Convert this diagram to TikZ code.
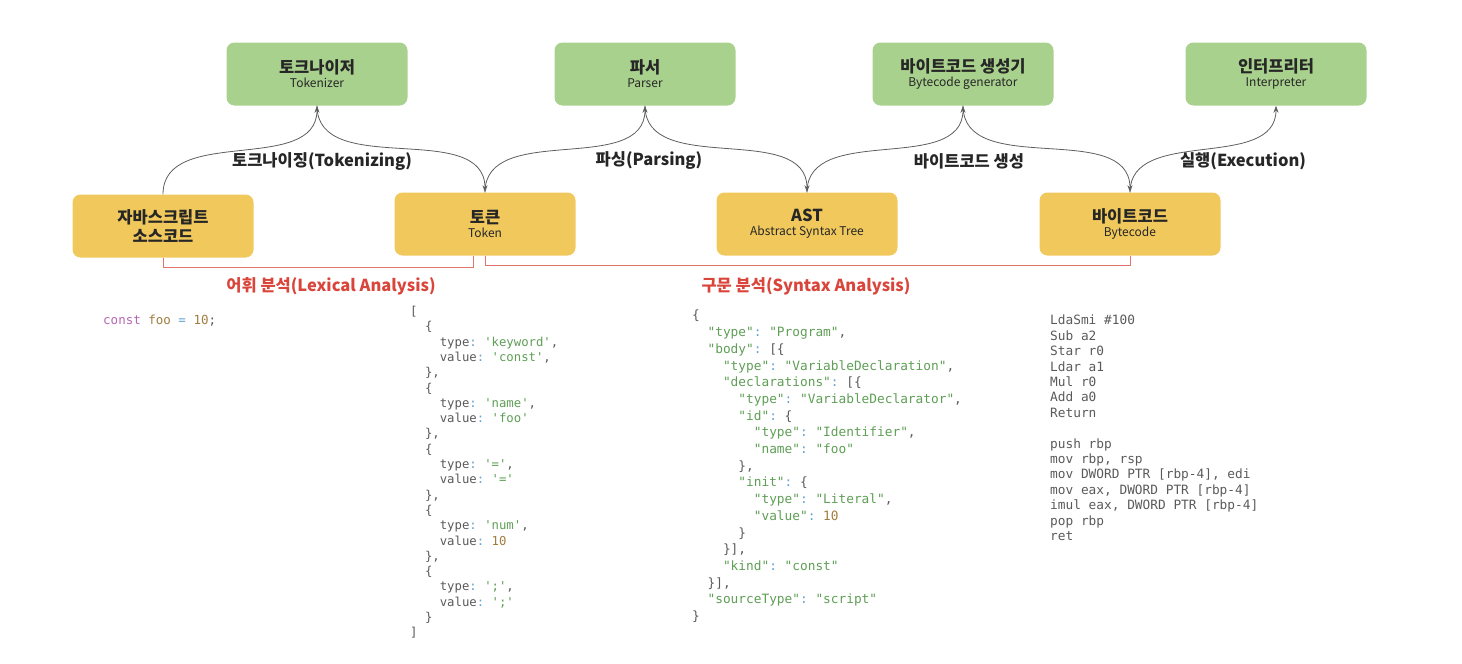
\documentclass[tikz,border=0pt]{standalone}
\usepackage{fontspec}
\setmainfont{Noto Sans CJK KR}
\setmonofont{DejaVu Sans Mono}
\usetikzlibrary{arrows.meta}
\definecolor{verde}{HTML}{A9D18E}
\definecolor{amarillo}{HTML}{F0C85C}
\definecolor{rojo}{HTML}{D9453B}
\definecolor{gris}{HTML}{5E5E5E}
\definecolor{codgris}{HTML}{5A5A5A}
\definecolor{codverde}{HTML}{5E9E55}
\definecolor{codnum}{HTML}{A27C3E}
\definecolor{codazul}{HTML}{62A3D2}
\definecolor{codmorado}{HTML}{B466B4}
\newcommand{\titulo}[1]{{\fontsize{16.5}{19}\selectfont\bfseries #1}}
\newcommand{\subt}[1]{{\fontsize{12}{14}\selectfont #1}}
\newcommand{\cad}[1]{\textcolor{codverde}{#1}}
\newcommand{\numero}[1]{\textcolor{codnum}{#1}}
\newcommand{\dosp}{\textcolor{codazul}{:}}
\newcommand{\esp}[1]{\hspace*{#1\fontcharwd\font`0}}

\begin{document}
\begin{tikzpicture}[x=1pt, y=1pt,
    caja/.style={rounded corners=8pt, minimum width=181pt, minimum height=63pt, align=center, inner sep=2pt, text=black!85},
    proceso/.style={caja, fill=verde},
    dato/.style={caja, fill=amarillo},
    flecha/.style={-{Stealth[length=7pt,width=5pt]}, gris, line width=0.8pt},
    corchete/.style={rojo!75, line width=0.8pt},
    etiqueta/.style={font=\fontsize{16.5}{19}\selectfont\bfseries, text=black!85},
    fase/.style={font=\fontsize{16.5}{19}\selectfont\bfseries, text=rojo},
    codigo/.style={anchor=north west, inner sep=0pt, align=left, text=codgris}]
  \useasboundingbox (0,0) rectangle (1462,-664);
  % etapas
  \node[proceso] (tokenizador) at (317,-74) {\titulo{토크나이저}\\[2pt]\subt{Tokenizer}};
  \node[proceso] (parser) at (645,-74) {\titulo{파서}\\[2pt]\subt{Parser}};
  \node[proceso] (generador) at (963,-74) {\titulo{바이트코드 생성기}\\[2pt]\subt{Bytecode generator}};
  \node[proceso] (interprete) at (1276,-74) {\titulo{인터프리터}\\[2pt]\subt{Interpreter}};
  % datos
  \node[dato] (fuente) at (163,-226) {\titulo{자바스크립트}\\[3pt]\titulo{소스코드}};
  \node[dato] (token) at (485,-224) {\titulo{토큰}\\[2pt]\subt{Token}};
  \node[dato] (ast) at (807,-224) {\titulo{AST}\\[2pt]\subt{Abstract Syntax Tree}};
  \node[dato] (bytecode) at (1130,-224) {\titulo{바이트코드}\\[2pt]\subt{Bytecode}};
  % flechas
  \draw[flecha] (fuente.north) to[out=90, in=-90] (tokenizador.south);
  \draw[flecha] (tokenizador.south) to[out=-90, in=90] (token.north);
  \draw[flecha] (token.north) to[out=90, in=-90] (parser.south);
  \draw[flecha] (parser.south) to[out=-90, in=90] (ast.north);
  \draw[flecha] (ast.north) to[out=90, in=-90] (generador.south);
  \draw[flecha] (generador.south) to[out=-90, in=90] (bytecode.north);
  \draw[flecha] (bytecode.north) to[out=90, in=-90] (interprete.south);
  \node[etiqueta] (tokenizing) at (322,-161) {토크나이징(Tokenizing)};
  \node[etiqueta] (parsing) at (649,-161) {파싱(Parsing)};
  \node[etiqueta] (generacion) at (969,-161) {바이트코드 생성};
  \node[etiqueta] (ejecucion) at (1243,-161) {실행(Execution)};
  % fases
  \draw[corchete] (fuente.south) -- ++(0,-10) -| ([xshift=-12pt]token.south);
  \draw[corchete] (token.south) -- ++(0,-10) -| (bytecode.south);
  \node[fase] (lexico) at (331,-286) {어휘 분석(Lexical Analysis)};
  \node[fase] (sintaxis) at (806,-286) {구문 분석(Syntax Analysis)};
  % codigo
  \node[codigo, font=\ttfamily\fontsize{12.5}{15.3}\selectfont] (src) at (103,-315)
    {\textcolor{codmorado}{const} \numero{foo} \textcolor{codazul}{=} \numero{10};};
  \node[codigo, font=\ttfamily\fontsize{12.3}{15.3}\selectfont] (tokens) at (410,-306) {[\\
    \esp{2}\{\\
    \esp{4}type\dosp{} \cad{'keyword'},\\
    \esp{4}value\dosp{} \cad{'const'},\\
    \esp{2}\},\\
    \esp{2}\{\\
    \esp{4}type\dosp{} \cad{'name'},\\
    \esp{4}value\dosp{} \cad{'foo'}\\
    \esp{2}\},\\
    \esp{2}\{\\
    \esp{4}type\dosp{} \cad{'='},\\
    \esp{4}value\dosp{} \cad{'='}\\
    \esp{2}\},\\
    \esp{2}\{\\
    \esp{4}type\dosp{} \cad{'num'},\\
    \esp{4}value\dosp{} \numero{10}\\
    \esp{2}\},\\
    \esp{2}\{\\
    \esp{4}type\dosp{} \cad{';'},\\
    \esp{4}value\dosp{} \cad{';'}\\
    \esp{2}\}\\
    ]};
  \node[codigo, font=\ttfamily\fontsize{12.8}{16.7}\selectfont] (arbol) at (692,-310) {\{\\
    \esp{2}\cad{"type"}\dosp{} \cad{"Program"},\\
    \esp{2}\cad{"body"}\dosp{} [\{\\
    \esp{4}\cad{"type"}\dosp{} \cad{"VariableDeclaration"},\\
    \esp{4}\cad{"declarations"}\dosp{} [\{\\
    \esp{6}\cad{"type"}\dosp{} \cad{"VariableDeclarator"},\\
    \esp{6}\cad{"id"}\dosp{} \{\\
    \esp{8}\cad{"type"}\dosp{} \cad{"Identifier"},\\
    \esp{8}\cad{"name"}\dosp{} \cad{"foo"}\\
    \esp{6}\},\\
    \esp{6}\cad{"init"}\dosp{} \{\\
    \esp{8}\cad{"type"}\dosp{} \cad{"Literal"},\\
    \esp{8}\cad{"value"}\dosp{} \numero{10}\\
    \esp{6}\}\\
    \esp{4}\}],\\
    \esp{4}\cad{"kind"}\dosp{} \cad{"const"}\\
    \esp{2}\}],\\
    \esp{2}\cad{"sourceType"}\dosp{} \cad{"script"}\\
    \}};
  \node[codigo, font=\ttfamily\fontsize{12.8}{15.4}\selectfont] (maquina) at (1050,-315) {LdaSmi \#100\\
    Sub a2\\
    Star r0\\
    Ldar a1\\
    Mul r0\\
    Add a0\\
    Return\\
    \strut\\
    push rbp\\
    mov rbp, rsp\\
    mov DWORD PTR [rbp-4], edi\\
    mov eax, DWORD PTR [rbp-4]\\
    imul eax, DWORD PTR [rbp-4]\\
    pop rbp\\
    ret};
\end{tikzpicture}
\end{document}
